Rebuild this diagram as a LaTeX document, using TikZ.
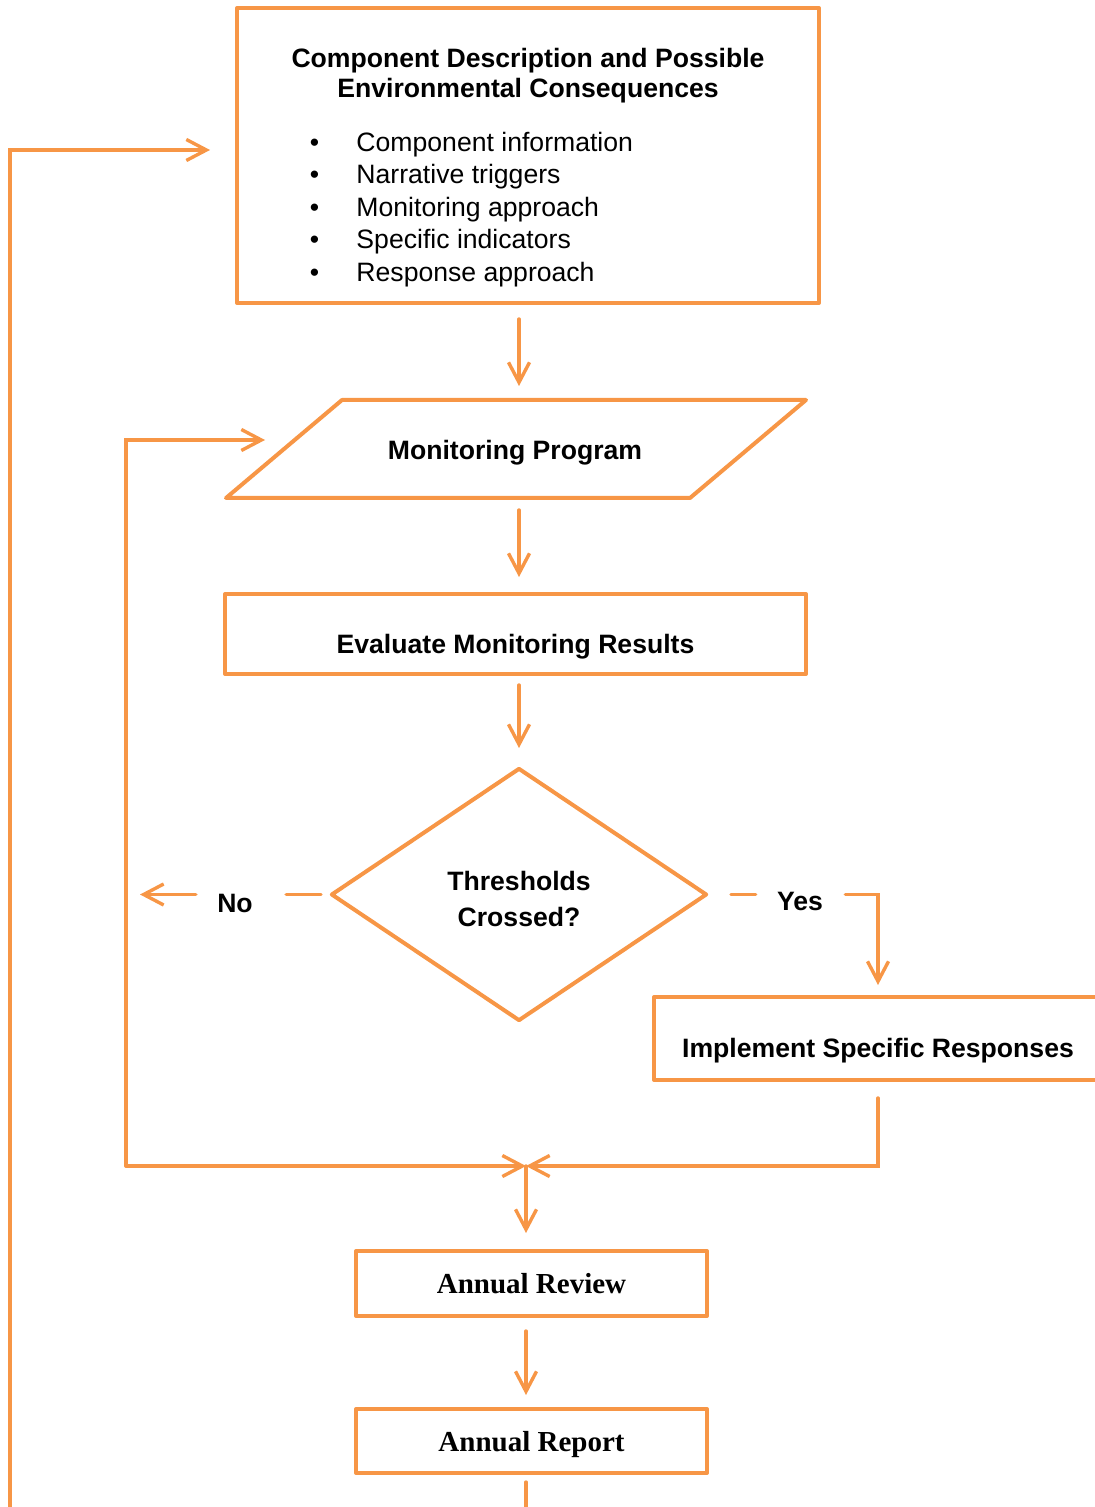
\documentclass[tikz,border=0pt]{standalone}
\usepackage{fontspec}
\setmainfont{Liberation Sans}
\newfontfamily\timesfont{Liberation Serif}
\usetikzlibrary{shapes.geometric,arrows.meta}
\definecolor{flowor}{HTML}{F79646}

\begin{document}
\begin{tikzpicture}[x=0.5pt, y=-0.5pt,
    txt/.style={font=\fontsize{13.3}{16}\selectfont},
    head/.style={font=\fontsize{13.3}{16}\selectfont\bfseries},
    serifhead/.style={font=\fontsize{14.5}{17}\selectfont\timesfont\bfseries},
    box/.style={draw=flowor, line width=2pt, line join=round, text depth=0pt},
    line/.style={draw=flowor, line width=1.7pt, line cap=round},
    arr/.style={line, -{Straight Barb[length=10pt, width=10.5pt]}}]
        \useasboundingbox (0,0) rectangle (1094,1507);
        % top box
        \node[box, minimum width=291pt, minimum height=147.5pt] (comp) at (528,155.5) {};
        \node[font=\fontsize{13.3}{15}\selectfont\bfseries, align=center] (title) at (528,76) {Component Description and Possible\\Environmental Consequences};
        \node[txt, inner sep=0pt, anchor=mid west] (item1) at (309.5,146.7) {\makebox[23.3pt][l]{\textbullet}Component information};
        \node[txt, inner sep=0pt, anchor=mid west] (item2) at (309.5,178.7) {\makebox[23.3pt][l]{\textbullet}Narrative triggers};
        \node[txt, inner sep=0pt, anchor=mid west] (item3) at (309.5,211.7) {\makebox[23.3pt][l]{\textbullet}Monitoring approach};
        \node[txt, inner sep=0pt, anchor=mid west] (item4) at (309.5,243.7) {\makebox[23.3pt][l]{\textbullet}Specific indicators};
        \node[txt, inner sep=0pt, anchor=mid west] (item5) at (309.5,276.7) {\makebox[23.3pt][l]{\textbullet}Response approach};
        % monitoring program
        \coordinate (p1) at (226,498);
        \coordinate (p2) at (342,400);
        \coordinate (p3) at (806,400);
        \coordinate (p4) at (690,498);
        \draw[box] (p1) -- (p2) -- (p3) -- (p4) -- cycle;
        \node[head] (prog) at (515,453) {Monitoring Program};
        % evaluate, decision, response
        \node[box, head, minimum width=290.5pt, minimum height=40pt, text height=19.6pt] (eval) at (515.5,634) {Evaluate Monitoring Results};
        \node[box, diamond, font=\fontsize{13.3}{18}\selectfont\bfseries, align=center, inner sep=0pt, minimum width=188pt, minimum height=126.5pt, text height=32pt] (diam) at (519,894.5) {Thresholds\\Crossed?};
        \node[head, inner sep=0pt] (no) at (235,903) {No};
        \node[head, inner sep=0pt] (yes) at (800,901) {Yes};
        \node[box, head, minimum width=224pt, minimum height=41.5pt, text height=19.4pt] (impl) at (878,1038.5) {Implement Specific Responses};
        % review and report
        \node[box, serifhead, minimum width=175.5pt, minimum height=32.5pt] (rev) at (531.5,1283.5) {Annual Review};
        \node[box, serifhead, minimum width=175.5pt, minimum height=32pt] (rep) at (531.5,1441) {Annual Report};
        % loop corners
        \coordinate (topL) at (10,150);
        \coordinate (botL) at (10,1507);
        \coordinate (compin) at (210,150);
        \coordinate (upL) at (126,440);
        \coordinate (progin) at (265,440);
        \coordinate (lowL) at (126,1166);
        \coordinate (merge) at (526,1166);
        % connectors
        \draw[arr, shorten <=7pt, shorten >=7pt] (comp.south -| diam) to (p2 -| diam);
        \draw[arr, shorten <=6pt, shorten >=7.5pt] (p1 -| diam) to (eval.north -| diam);
        \draw[arr, shorten <=4.5pt, shorten >=9pt] (eval.south -| diam) to (diam.north);
        \draw[line, shorten <=4pt, shorten >=16.5pt] (diam.west) to (diam.west -| no.east);
        \draw[arr, shorten <=10.5pt, shorten >=7pt] (diam.west -| no.west) to (diam.west -| lowL);
        \draw[line, shorten <=11pt, shorten >=10.5pt] (diam.east) to (diam.east -| yes.west);
        \draw[arr, shorten <=11pt, shorten >=5pt] (diam.east -| yes.east) -- (diam.east -| impl.north) -- (impl.north);
        \draw[arr, shorten <=8pt] (impl.south) -- (impl.south |- merge) -- (merge);
        \draw[arr] (lowL) -- (upL) -- (progin);
        \draw[arr] (lowL) -- (merge);
        \draw[arr, shorten >=8pt] (merge) -- (merge |- rev.north);
        \draw[arr, shorten <=6.5pt, shorten >=6pt] (rev.south -| merge) -- (rep.north -| merge);
        \draw[line, shorten <=3.5pt] (rep.south -| merge) -- (merge |- botL);
        \draw[arr] (botL) -- (topL) -- (compin);
    \end{tikzpicture}
\end{document}
